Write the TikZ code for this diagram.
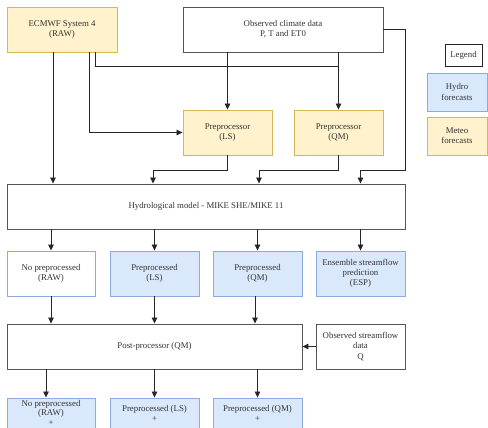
\documentclass[tikz,border=0pt]{standalone}
\usepackage{fontspec}
\setmainfont{Liberation Serif}
\usetikzlibrary{arrows.meta}
\definecolor{yfill}{HTML}{FFF2CC}
\definecolor{ydraw}{HTML}{D6B656}
\definecolor{bfill}{HTML}{DAE8FC}
\definecolor{bdraw}{HTML}{8FAADC}
\definecolor{kdraw}{HTML}{555555}
\definecolor{ltext}{HTML}{333333}
\tikzset{
  box/.style={rectangle, draw=kdraw, fill=white, line width=0.9pt, align=center,
    inner sep=1pt, text=ltext, font=\fontsize{8.8}{10.2}\selectfont},
  ybox/.style={box, draw=ydraw, fill=yfill},
  bbox/.style={box, draw=bdraw, fill=bfill},
  wbbox/.style={box, draw=bdraw, fill=white},
  txt/.style={align=center, inner sep=0pt, text=ltext, font=\fontsize{8.8}{9.6}\selectfont},
  arr/.style={draw=black!85, line width=0.8pt, -{Triangle[length=6pt,width=5.5pt]}},
  ln/.style={draw=black!85, line width=0.8pt},
}
\begin{document}
\begin{tikzpicture}[x=1pt,y=-1pt]
\useasboundingbox (0,0) rectangle (488,428);
\clip (0,0) rectangle (488,428);
% nodes
\node[ybox, minimum width=110, minimum height=45] (ecmwf) at (62,29.5) {ECMWF System 4\\(RAW)};
\node[box, minimum width=200, minimum height=45] (obs) at (283,29.5) {Observed climate data\\P, T and ET0};
\node[ybox, minimum width=89, minimum height=45] (ls) at (227.5,132.5) {Preprocessor\\(LS)};
\node[ybox, minimum width=89, minimum height=45] (qm) at (338.5,132.5) {Preprocessor\\(QM)};
\node[box, minimum width=398, minimum height=45] (hydro) at (206,206.5) {Hydrological model - MIKE SHE/MIKE 11};
\node[wbbox, minimum width=88, minimum height=45] (r1) at (51,273.5) {No preprocessed\\(RAW)};
\node[bbox, minimum width=89, minimum height=45] (r2) at (154.5,273.5) {Preprocessed\\(LS)};
\node[bbox, minimum width=89, minimum height=45] (r3) at (257.5,273.5) {Preprocessed\\(QM)};
\node[bbox, minimum width=89, minimum height=45] (r4) at (360.5,273.5) {Ensemble streamflow\\prediction\\(ESP)};
\node[box, minimum width=295, minimum height=45] (post) at (154.5,346.5) {Post-processor (QM)};
\node[box, minimum width=89, minimum height=45] (obsq) at (360.5,346.5) {Observed streamflow\\data\\Q};
\node[bbox, minimum width=88, minimum height=45] (b1) at (51,420.5) {};
\node[bbox, minimum width=89, minimum height=45] (b2) at (154.5,420.5) {};
\node[bbox, minimum width=89, minimum height=45] (b3) at (257.5,420.5) {};
\node[txt, anchor=north] (b1t) at (51,400) {No preprocessed\\(RAW)\\+};
\node[txt, anchor=north] (b2t) at (154.5,405.5) {Preprocessed (LS)\\+};
\node[txt, anchor=north] (b3t) at (257.5,405.5) {Preprocessed (QM)\\+};
% legend
\node[box, draw=black!85, minimum width=37, minimum height=22] (leg) at (463.5,55) {Legend};
\node[bbox, minimum width=60, minimum height=38] (legh) at (457,92) {Hydro\\forecasts};
\node[ybox, minimum width=60, minimum height=38] (legm) at (457,136) {Meteo\\forecasts};
% helper coordinates
\coordinate (xa) at (53,0);
\coordinate (xb) at (89,0);
\coordinate (xc) at (95,0);
\coordinate (xd) at (153,0);
\coordinate (xe) at (259,0);
\coordinate (xf) at (405,0);
\coordinate (xg) at (46,0);
\coordinate (xh) at (255,0);
\coordinate (yh) at (0,66);
\coordinate (yk) at (0,170);
% connectors
\draw[arr] (ecmwf.south -| xa) -- (hydro.north -| xa);
\draw[arr] (ecmwf.south -| xb) |- (ls.west);
\draw[ln] (ecmwf.south -| xc) |- (qm.north |- yh);
\draw[arr] (obs.south -| ls.north) -- (ls.north);
\draw[arr] (obs.south -| qm.north) -- (qm.north);
\draw[arr] (ls.south) -- (ls.south |- yk) -| (hydro.north -| xd);
\draw[arr] (qm.south) -- (qm.south |- yk) -| (hydro.north -| xe);
\draw[arr] (obs.east) -| (xf |- yk) -| (hydro.north -| r4.north);
\draw[arr] (hydro.south -| r1.north) -- (r1.north);
\draw[arr] (hydro.south -| r2.north) -- (r2.north);
\draw[arr] (hydro.south -| r3.north) -- (r3.north);
\draw[arr] (hydro.south -| r4.north) -- (r4.north);
\draw[arr] (r1.south) -- (post.north -| r1.south);
\draw[arr] (r2.south) -- (post.north -| r2.south);
\draw[arr] (r3.south -| xh) -- (post.north -| xh);
\draw[arr] (obsq.west) -- (post.east);
\draw[arr] (post.south -| xg) -- (b1.north -| xg);
\draw[arr] (post.south -| b2.north) -- (b2.north);
\draw[arr] (post.south -| b3.north) -- (b3.north);
\end{tikzpicture}
\end{document}
